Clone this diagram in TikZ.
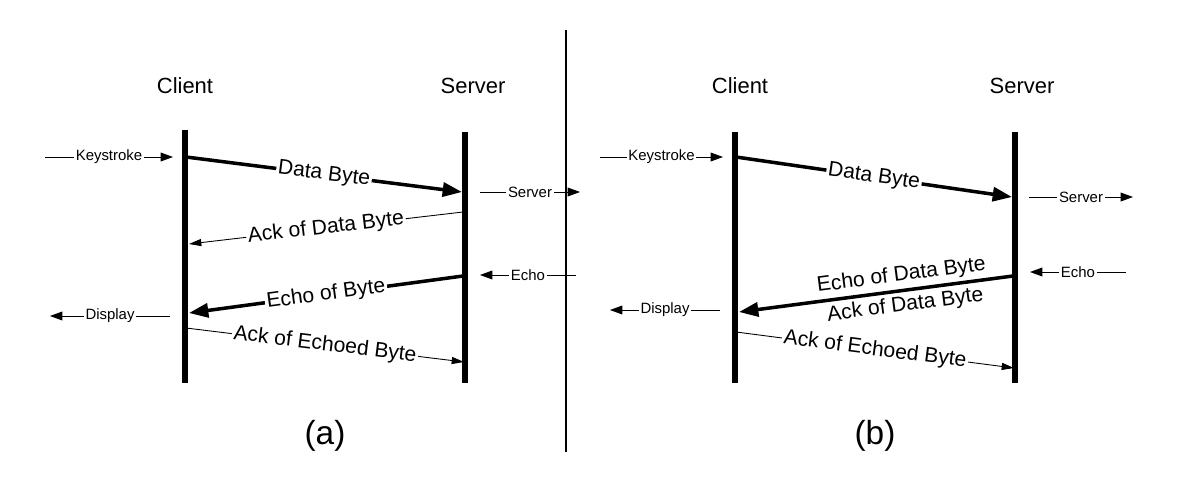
\documentclass[tikz,border=0pt]{standalone}
\usepackage{fontspec}
\setmainfont{Liberation Sans}
\usetikzlibrary{arrows.meta}
\begin{document}
\begin{tikzpicture}[x=0.02cm,y=-0.02cm,
  life/.style={line width=3.2pt},
  big/.style={line width=2pt,-{Triangle[length=11pt,width=8pt]}},
  thin/.style={line width=0.5pt,-{Triangle[length=7pt,width=4pt]}},
  side/.style={line width=0.5pt,-{Triangle[length=7pt,width=5pt]}},
  lab/.style={fill=white,inner sep=1pt,font=\fontsize{12}{13}\selectfont,sloped},
  slab/.style={fill=white,inner sep=1pt,font=\fontsize{8.5}{9}\selectfont},
  head/.style={font=\fontsize{12.5}{14}\selectfont},
  pcap/.style={font=\fontsize{19}{22}\selectfont}]
\useasboundingbox (0,0) rectangle (1177,480);
% divider
\coordinate (d1) at (566,30); \coordinate (d2) at (566,452);
\draw[line width=1.6pt] (d1) -- (d2);
% ---------- (a)
\node[head] (ca) at (185,86) {Client};
\node[head] (sa) at (473,86) {Server};
\coordinate (ct) at (185,130); \coordinate (cb) at (185,383);
\coordinate (st) at (465,132); \coordinate (sb) at (465,383);
\draw[life] (ct) -- (cb); \draw[life] (st) -- (sb);
\coordinate (k1) at (45,157); \coordinate (k2) at (173,157);
\draw[side] (k1) -- node[slab]{Keystroke} (k2);
\coordinate (a1) at (186,157); \coordinate (a2) at (462,192);
\draw[big] (a1) -- node[lab]{Data Byte} (a2);
\coordinate (s1) at (480,192); \coordinate (s2) at (580,192);
\draw[side] (s1) -- node[slab]{Server} (s2);
\coordinate (b1) at (463,212); \coordinate (b2) at (189,244);
\draw[thin] (b1) -- node[lab,pos=0.5]{Ack of Data Byte} (b2);
\coordinate (e1) at (576,275); \coordinate (e2) at (480,275);
\draw[side] (e1) -- node[slab]{Echo} (e2);
\coordinate (c1) at (463,276); \coordinate (c2) at (189,313);
\draw[big] (c1) -- node[lab]{Echo of Byte} (c2);
\coordinate (p1) at (170,316); \coordinate (p2) at (50,316);
\draw[side] (p1) -- node[slab]{Display} (p2);
\coordinate (f1) at (186,328); \coordinate (f2) at (464,362);
\draw[thin] (f1) -- node[lab]{Ack of Echoed Byte} (f2);
\node[pcap] (la) at (325,436) {(a)};
% ---------- (b)
\node[head] (cb0) at (740,86) {Client};
\node[head] (sb0) at (1022,86) {Server};
\coordinate (ct2) at (735,132); \coordinate (cb2) at (735,383);
\coordinate (st2) at (1015,132); \coordinate (sb2) at (1015,383);
\draw[life] (ct2) -- (cb2); \draw[life] (st2) -- (sb2);
\coordinate (k3) at (600,157); \coordinate (k4) at (723,157);
\draw[side] (k3) -- node[slab]{Keystroke} (k4);
\coordinate (a3) at (736,157); \coordinate (a4) at (1012,197);
\draw[big] (a3) -- node[lab]{Data Byte} (a4);
\coordinate (s3) at (1029,197); \coordinate (s4) at (1133,197);
\draw[side] (s3) -- node[slab]{Server} (s4);
\coordinate (e3) at (1126,272); \coordinate (e4) at (1030,272);
\draw[side] (e3) -- node[slab]{Echo} (e4);
\coordinate (c3) at (1013,276); \coordinate (c4) at (739,312);
\draw[big] (c3) -- node[lab,pos=0.4,above=1pt]{Echo of Data Byte} node[lab,pos=0.4,below=1pt]{Ack of Data Byte} (c4);
\coordinate (p3) at (720,310); \coordinate (p4) at (610,310);
\draw[side] (p3) -- node[slab]{Display} (p4);
\coordinate (f3) at (736,332); \coordinate (f4) at (1014,368);
\draw[thin] (f3) -- node[lab]{Ack of Echoed Byte} (f4);
\node[pcap] (lb) at (875,436) {(b)};
\end{tikzpicture}
\end{document}
